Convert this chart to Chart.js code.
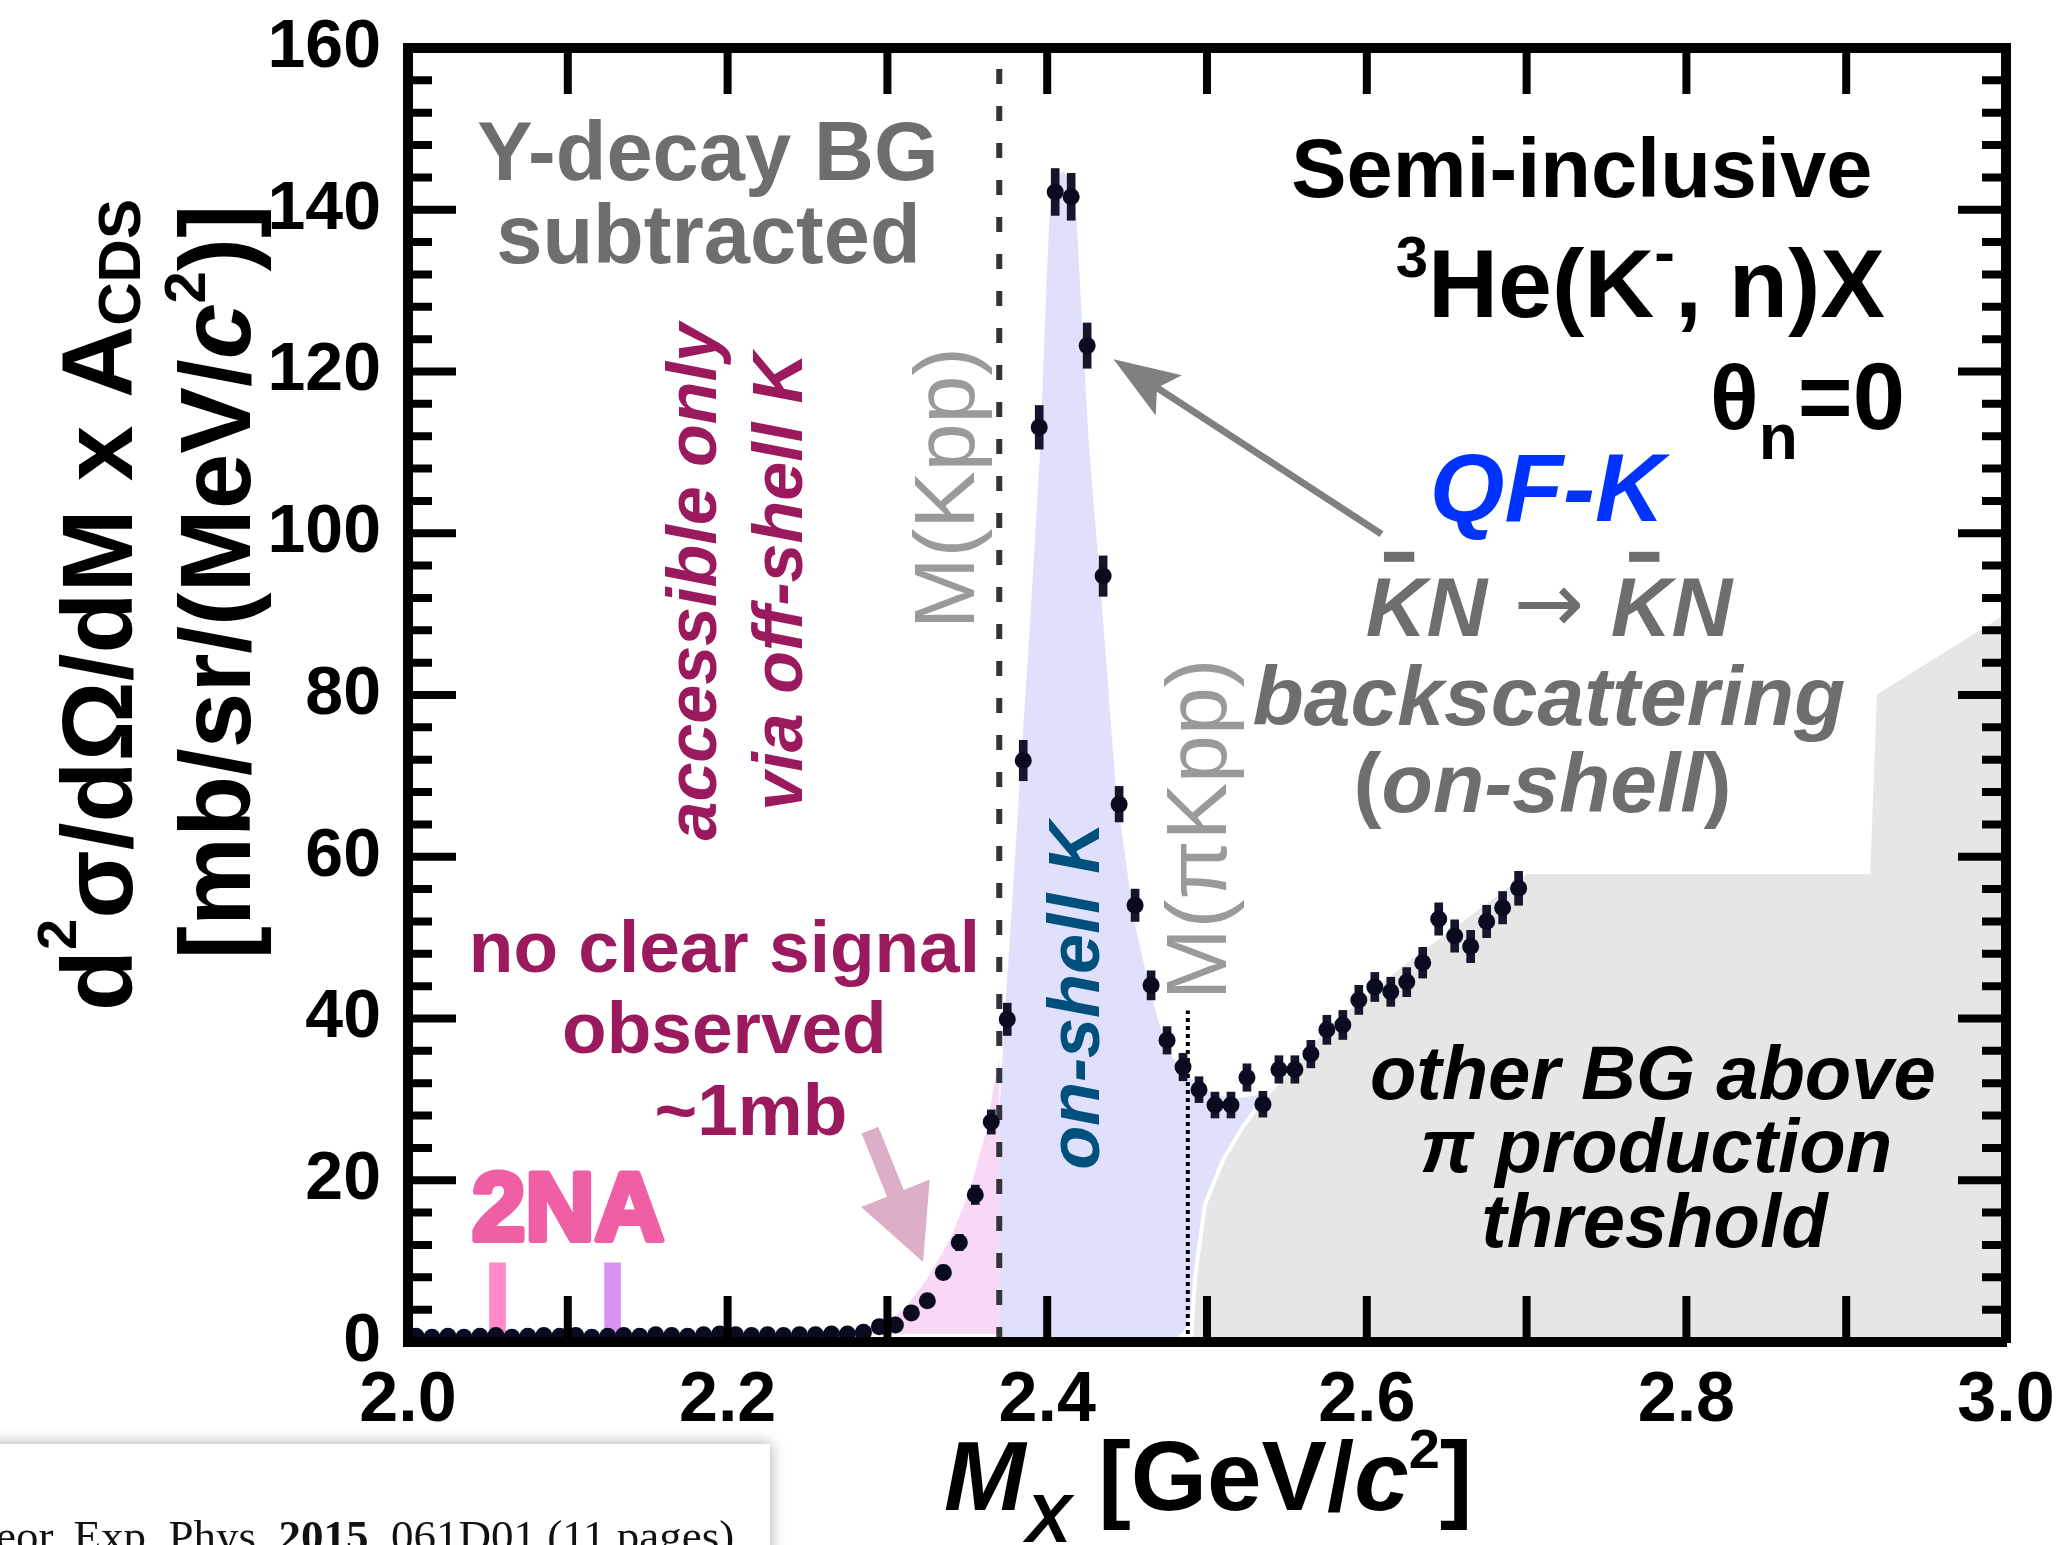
<!DOCTYPE html>
<html>
<head>
<meta charset="utf-8">
<script src="https://cdn.jsdelivr.net/npm/chart.js@4.4.1/dist/chart.umd.min.js"></script>
<style>
  html, body { margin: 0; padding: 0; background: #fff; }
  canvas { display: block; }
</style>
</head>
<body>
<canvas id="chart" width="2063" height="1545"></canvas>
<script>
const FONT = '"Liberation Sans", Arial, Helvetica, sans-serif';
const SERIF = '"Liberation Serif", "Times New Roman", serif';

// missing-mass bin centres, GeV/c^2
const massBins = [
  2.005, 2.015, 2.025, 2.035, 2.045, 2.055, 2.065, 2.075, 2.085, 2.095,
  2.105, 2.115, 2.125, 2.135, 2.145, 2.155, 2.165, 2.175, 2.185, 2.195,
  2.205, 2.215, 2.225, 2.235, 2.245, 2.255, 2.265, 2.275, 2.285, 2.295,
  2.305, 2.315, 2.325, 2.335, 2.345, 2.355, 2.365, 2.375, 2.385, 2.395,
  2.405, 2.415, 2.425, 2.435, 2.445, 2.455, 2.465, 2.475, 2.485, 2.495,
  2.505, 2.515, 2.525, 2.535, 2.545, 2.555, 2.565, 2.575, 2.585, 2.595,
  2.605, 2.615, 2.625, 2.635, 2.645, 2.655, 2.665, 2.675, 2.685, 2.695
];

// d2sigma/dOmega/dM x A_CDS, mb/sr/(MeV/c^2)
const crossSection = [
  0.7, 0.6, 0.7, 0.6, 0.7, 0.8, 0.6, 0.7, 0.8, 0.7,
  0.8, 0.6, 0.7, 0.8, 0.7, 0.9, 0.8, 0.7, 0.9, 1.0,
  0.9, 0.8, 0.9, 0.8, 0.9, 0.9, 1.0, 1.0, 1.2, 1.9,
  2.1, 3.6, 5.1, 8.6, 12.3, 18.2, 27.2, 39.9, 71.9, 113.1,
  142.2, 141.6, 123.2, 94.7, 66.5, 54.0, 44.1, 37.3, 34.0, 31.2,
  29.3, 29.3, 32.7, 29.4, 33.7, 33.7, 35.6, 38.6, 39.2, 42.3,
  43.9, 43.3, 44.5, 46.9, 52.3, 50.2, 48.9, 52.0, 53.7, 56.1
];

const crossSectionErr = [
  0.3, 0.3, 0.3, 0.3, 0.3, 0.3, 0.3, 0.3, 0.3, 0.3,
  0.3, 0.3, 0.3, 0.3, 0.3, 0.3, 0.3, 0.3, 0.3, 0.3,
  0.3, 0.3, 0.3, 0.3, 0.3, 0.3, 0.3, 0.3, 0.4, 0.5,
  0.6, 0.7, 0.8, 0.9, 1.0, 1.2, 1.5, 2.0, 2.5, 2.7,
  2.9, 2.9, 2.8, 2.5, 2.2, 2.0, 1.8, 1.7, 1.7, 1.6,
  1.6, 1.6, 1.7, 1.6, 1.7, 1.7, 1.7, 1.8, 1.8, 1.8,
  1.8, 1.8, 1.8, 1.9, 2.0, 2.0, 2.0, 2.0, 2.0, 2.1
];

// shaded regions, outlines
const offShellEdgeX = [2.250, 2.283, 2.295, 2.310, 2.3246, 2.339, 2.3517, 2.362, 2.3673, 2.370, 2.370];
const offShellEdgeY = [1.0, 1.15, 1.9, 4.0, 7.7, 12.6, 18.8, 26.2, 32.4, 35.0, 1.0];

const qfEdgeX = [2.370, 2.370, 2.374, 2.378, 2.383, 2.389, 2.3955, 2.399, 2.4013, 2.404, 2.410, 2.415,
  2.4184, 2.422, 2.4264, 2.433, 2.443, 2.4545, 2.4643, 2.4706, 2.4768, 2.485, 2.4956, 2.506, 2.5186,
  2.531, 2.5415, 2.548, 2.535, 2.522, 2.510, 2.4987, 2.493, 2.490, 2.486, 2.478];
const qfEdgeY = [0, 28, 42, 54, 70, 88, 110, 128, 139, 143.5, 144.8, 143.5,
  139, 125, 110, 94.3, 68.3, 52, 43.5, 39, 35.7, 33.4, 31.6, 30.5, 30.1,
  30.5, 31.4, 33, 30, 26.5, 22.5, 17, 8, 4, 1.5, 0];

const pionBgEdgeX = [2.490, 2.4925, 2.4987, 2.510, 2.522, 2.535, 2.548, 2.577, 2.627, 2.6996, 2.9138, 2.918, 3.0, 3.0];
const pionBgEdgeY = [0, 8, 17, 22.5, 26.5, 30, 33, 39.5, 47.5, 58.1, 58.1, 80.2, 90.3, 0];

// thresholds
const massKpp = 2.370;
const massPiKpp = 2.488;
const piKppLineTop = 41;

// 2NA markers
const twoNAMass = [2.056, 2.128];
const twoNALow = [1.0, 1.0];
const twoNAHigh = [9.8, 9.8];
const twoNAColors = ['#ff8ac6', '#da92f2'];

// axis tick marks
const xTickMarks = [2.1, 2.2, 2.3, 2.4, 2.5, 2.6, 2.7, 2.8, 2.9];
const yMajorMarks = [20, 40, 60, 80, 100, 120, 140];
const yMinorStep = 4;

const pts = (xs, ys) => xs.map((x, i) => ({ x, y: ys[i] }));

const GRAY = '#6e6e6e';
const MAROON = '#9b1a5e';
const LIGHT = '#9a9a9a';

const R = (t, s, z, dy, bar, fam) => ({ t, s, z, dy: dy || 0, bar: !!bar, fam });

const labels = [
  { x: 2.1877, y: 143.7, align: 'center', color: GRAY, runs: [R('Y-decay BG', 'bold', 83)] },
  { x: 2.188, y: 133.4, align: 'center', color: GRAY, runs: [R('subtracted', 'bold', 83)] },
  { x: 2.9164, y: 141.6, align: 'right', color: '#000', runs: [R('Semi-inclusive', 'bold', 83)] },
  { x: 2.9243, y: 126.7, align: 'right', color: '#000',
    runs: [R('3', 'bold', 58, -40), R('He(K', 'bold', 97), R('-', 'bold', 62, -44), R(', n)X', 'bold', 97)] },
  { x: 2.9368, y: 112.9, align: 'right', color: '#000',
    runs: [R('θ', 'bold', 90), R('n', 'bold', 64, 30), R('=0', 'bold', 94)] },
  { x: 2.7128, y: 101.5, align: 'center', color: '#0033ff', runs: [R('QF-K', 'italic bold', 96)] },
  { x: 2.714, y: 87.3, align: 'center', color: GRAY,
    runs: [R('K', 'italic bold', 84, 0, true), R('N', 'italic bold', 84), R(' → ', '', 84, -4, false, '"DejaVu Sans", sans-serif'),
           R('K', 'italic bold', 84, 0, true), R('N', 'italic bold', 84)] },
  { x: 2.714, y: 76.3, align: 'center', color: GRAY, runs: [R('backscattering', 'italic bold', 84)] },
  { x: 2.710, y: 65.5, align: 'center', color: GRAY,
    runs: [R('(', 'bold', 84), R('on-shell', 'italic bold', 84), R(')', 'bold', 84)] },
  { x: 2.1927, y: 94, rot: true, color: MAROON, runs: [R('accessible only', 'italic bold', 70)] },
  { x: 2.2466, y: 94, rot: true, color: MAROON, runs: [R('via off-shell K', 'italic bold', 70)] },
  { x: 2.354, y: 105.6, rot: true, color: LIGHT, runs: [R('M(Kpp)', '', 86)] },
  { x: 2.5122, y: 63.4, rot: true, color: LIGHT, runs: [R('M(πKpp)', '', 86)] },
  { x: 2.4324, y: 42.8, rot: true, color: '#00507e', runs: [R('on-shell K', 'italic bold', 72)] },
  { x: 2.198, y: 45.8, align: 'center', color: MAROON, runs: [R('no clear signal', 'bold', 73)] },
  { x: 2.198, y: 35.7, align: 'center', color: MAROON, runs: [R('observed', 'bold', 73)] },
  { x: 2.2146, y: 25.6, align: 'center', color: MAROON, runs: [R('~1mb', 'bold', 73)] },
  { x: 2.1001, y: 12.6, align: 'center', color: '#ef5fa3', round: 6, runs: [R('2NA', 'bold', 96)] },
  { x: 2.779, y: 30.1, align: 'center', color: '#000', runs: [R('other BG above', 'italic bold', 76)] },
  { x: 2.781, y: 21.0, align: 'center', color: '#000', runs: [R('π production', 'italic bold', 76)] },
  { x: 2.780, y: 11.7, align: 'center', color: '#000', runs: [R('threshold', 'italic bold', 76)] }
];

// arrows: [from x, from y, to x, to y] in data units
const qfArrow = [2.6092, 99.9, 2.4415, 121.5];
const offShellArrow = [2.2891, 26.2, 2.3223, 9.9];

function drawRuns(ctx, runs, x, y, align, color, round) {
  let total = 0;
  runs.forEach((r) => {
    ctx.font = `${r.s} ${r.z}px ${r.fam || FONT}`;
    r.w = ctx.measureText(r.t).width;
    total += r.w;
  });
  let cx = align === 'center' ? x - total / 2 : align === 'right' ? x - total : x;
  ctx.fillStyle = color;
  ctx.strokeStyle = color;
  ctx.textAlign = 'left';
  ctx.textBaseline = 'alphabetic';
  runs.forEach((r) => {
    ctx.font = `${r.s} ${r.z}px ${r.fam || FONT}`;
    ctx.fillText(r.t, cx, y + r.dy);
    if (round) {
      ctx.lineWidth = round;
      ctx.lineJoin = 'round';
      ctx.strokeText(r.t, cx, y + r.dy);
    }
    if (r.bar) {
      const top = y + r.dy - 0.716 * r.z - 24;
      ctx.fillRect(cx + 0.3 * r.w, top, 0.5 * r.w, 10);
    }
    cx += r.w;
  });
}

function drawArrow(ctx, x0, y0, x1, y1, shaft, headLen, headHalf, notch, color) {
  const ang = Math.atan2(y1 - y0, x1 - x0);
  const len = Math.hypot(x1 - x0, y1 - y0);
  ctx.save();
  ctx.translate(x0, y0);
  ctx.rotate(ang);
  ctx.fillStyle = color;
  ctx.beginPath();
  ctx.moveTo(0, -shaft / 2);
  ctx.lineTo(len - headLen + notch, -shaft / 2);
  ctx.lineTo(len - headLen, -headHalf);
  ctx.lineTo(len, 0);
  ctx.lineTo(len - headLen, headHalf);
  ctx.lineTo(len - headLen + notch, shaft / 2);
  ctx.lineTo(0, shaft / 2);
  ctx.closePath();
  ctx.fill();
  ctx.restore();
}

const decor = {
  id: 'decor',
  afterDatasetsDraw(chart) {
    const { ctx, chartArea: a, scales: { x, y } } = chart;
    ctx.save();
    ctx.strokeStyle = '#000';
    ctx.lineWidth = 8;
    ctx.beginPath();
    xTickMarks.forEach((v) => {
      const p = x.getPixelForValue(v);
      ctx.moveTo(p, a.bottom); ctx.lineTo(p, a.bottom - 46);
      ctx.moveTo(p, a.top); ctx.lineTo(p, a.top + 46);
    });
    for (let v = yMinorStep; v < 160; v += yMinorStep) {
      const p = y.getPixelForValue(v);
      const len = yMajorMarks.includes(v) ? 48 : 24;
      ctx.moveTo(a.left, p); ctx.lineTo(a.left + len, p);
      ctx.moveTo(a.right, p); ctx.lineTo(a.right - len, p);
    }
    ctx.stroke();
    ctx.restore();
  },
  afterDraw(chart) {
    const { ctx, scales: { x, y } } = chart;
    ctx.save();

    drawArrow(ctx, x.getPixelForValue(qfArrow[0]), y.getPixelForValue(qfArrow[1]),
      x.getPixelForValue(qfArrow[2]), y.getPixelForValue(qfArrow[3]), 7, 66, 24, 12, '#808080');
    drawArrow(ctx, x.getPixelForValue(offShellArrow[0]), y.getPixelForValue(offShellArrow[1]),
      x.getPixelForValue(offShellArrow[2]), y.getPixelForValue(offShellArrow[3]), 18, 74, 37, 0, '#dcaec8');

    labels.forEach((l) => {
      const px = x.getPixelForValue(l.x);
      const py = y.getPixelForValue(l.y);
      if (l.rot) {
        ctx.save();
        ctx.translate(px, py);
        ctx.rotate(-Math.PI / 2);
        drawRuns(ctx, l.runs, 0, 0, 'center', l.color);
        ctx.restore();
      } else {
        drawRuns(ctx, l.runs, px, py, l.align, l.color, l.round);
      }
    });

    // y axis title
    ctx.save();
    ctx.translate(132, 605);
    ctx.rotate(-Math.PI / 2);
    drawRuns(ctx, [R('d', 'bold', 100), R('2', 'bold', 56, -56), R('σ/dΩ/dM x A', 'bold', 100), R('CDS', 'bold', 60, 8)],
      0, 0, 'center', '#000');
    ctx.restore();
    ctx.save();
    ctx.translate(250, 582);
    ctx.rotate(-Math.PI / 2);
    drawRuns(ctx, [R('[mb/sr/(MeV/', 'bold', 100), R('c', 'italic bold', 100), R('2', 'bold', 58, -45), R(')]', 'bold', 100)],
      0, 0, 'center', '#000');
    ctx.restore();

    // x axis title
    drawRuns(ctx, [R('M', 'italic bold', 98), R('X', 'italic bold', 68, 32), R(' [GeV/', 'bold', 98),
      R('c', 'italic bold', 98), R('2', 'bold', 56, -42), R(']', 'bold', 98)], 944, 1510, 'left', '#000');

    // pasted journal footer
    ctx.save();
    ctx.shadowColor = 'rgba(0,0,0,0.35)';
    ctx.shadowBlur = 14;
    ctx.fillStyle = '#fff';
    ctx.fillRect(-30, 1444, 800, 200);
    ctx.restore();
    ctx.fillStyle = '#111';
    ctx.textAlign = 'left';
    ctx.font = `45px ${SERIF}`;
    let fx = -4;
    ctx.fillText('eor. Exp. Phys. ', fx, 1551);
    fx += ctx.measureText('eor. Exp. Phys. ').width;
    ctx.font = `bold 45px ${SERIF}`;
    ctx.fillText('2015', fx, 1551);
    fx += ctx.measureText('2015').width;
    ctx.font = `45px ${SERIF}`;
    ctx.fillText(', 061D01 (11 pages)', fx, 1551);

    ctx.restore();
  }
};

const points = massBins.map((m, i) => ({ x: m, y: crossSection[i] }));
const errBars = massBins.map((m, i) => ({ x: m, y: [crossSection[i] - crossSectionErr[i], crossSection[i] + crossSectionErr[i]] }));
const twoNABars = twoNAMass.map((m, i) => ({ x: m, y: [twoNALow[i], twoNAHigh[i]] }));

const border = { display: true, color: '#000', width: 10, z: 1 };
const noGrid = { drawOnChartArea: false, drawTicks: false, offset: false };
const tickFont = { family: FONT, size: 70, weight: 'bold' };
const clear = 'rgba(0,0,0,0)';

// fixed box size, no label overhang padding
const fixBox = (w, h) => (s) => {
  if (w !== null) s.width = w;
  if (h !== null) s.height = h;
  s.paddingTop = 0; s.paddingBottom = 0; s.paddingLeft = 0; s.paddingRight = 0;
};

new Chart(document.getElementById('chart'), {
  type: 'scatter',
  data: {
    datasets: [
      { type: 'scatter', data: points, pointRadius: 8.5, pointBackgroundColor: '#0a0a20', pointBorderWidth: 0, order: 0, clip: false },
      { type: 'bar', data: errBars, backgroundColor: '#16162a', barThickness: 8, grouped: false, order: 1 },
      { type: 'line', data: [{ x: massKpp, y: 0 }, { x: massKpp, y: 160 }], borderColor: '#333339', borderWidth: 6,
        borderDash: [15, 22], pointRadius: 0, fill: false, order: 2 },
      { type: 'line', data: [{ x: massPiKpp, y: 0 }, { x: massPiKpp, y: piKppLineTop }], borderColor: '#000', borderWidth: 4,
        borderDash: [4, 4], pointRadius: 0, fill: false, order: 2 },
      { type: 'bar', data: twoNABars, backgroundColor: twoNAColors, barThickness: 16, grouped: false, order: 3 },
      { type: 'line', data: pts(pionBgEdgeX, pionBgEdgeY), fill: 'shape', backgroundColor: '#e6e6e6',
        borderColor: '#fff', borderWidth: 4, pointRadius: 0, order: 4 },
      { type: 'line', data: pts(qfEdgeX, qfEdgeY), fill: 'shape', backgroundColor: '#e0e0fc',
        borderColor: clear, borderWidth: 1, pointRadius: 0, order: 5 },
      { type: 'line', data: pts(offShellEdgeX, offShellEdgeY), fill: 'shape', backgroundColor: '#f9d8f6',
        borderColor: clear, borderWidth: 1, pointRadius: 0, order: 6 }
    ]
  },
  options: {
    responsive: false,
    animation: false,
    devicePixelRatio: 1,
    events: [],
    layout: { padding: 0 },
    plugins: { legend: { display: false }, tooltip: { enabled: false }, filler: { propagate: false } },
    scales: {
      x: {
        type: 'linear', position: 'bottom', min: 2.0, max: 3.0, offset: false,
        ticks: { stepSize: 0.2, autoSkip: false, maxRotation: 0, padding: 18, color: '#000', font: tickFont,
                 callback: (v) => v.toFixed(1) },
        grid: noGrid, border,
        afterFit: fixBox(null, 203)
      },
      x2: {
        type: 'linear', position: 'top', min: 2.0, max: 3.0, offset: false,
        ticks: { display: false }, grid: noGrid, border,
        afterFit: fixBox(null, 48)
      },
      y: {
        type: 'linear', position: 'left', min: 0, max: 160,
        ticks: { stepSize: 20, padding: 27, color: '#000', font: { family: FONT, size: 68, weight: 'bold' } },
        grid: noGrid, border,
        afterFit: fixBox(408, null)
      },
      y2: {
        type: 'linear', position: 'right', min: 0, max: 160,
        ticks: { display: false }, grid: noGrid, border,
        afterFit: fixBox(57, null)
      }
    }
  },
  plugins: [decor]
});
</script>
</body>
</html>
